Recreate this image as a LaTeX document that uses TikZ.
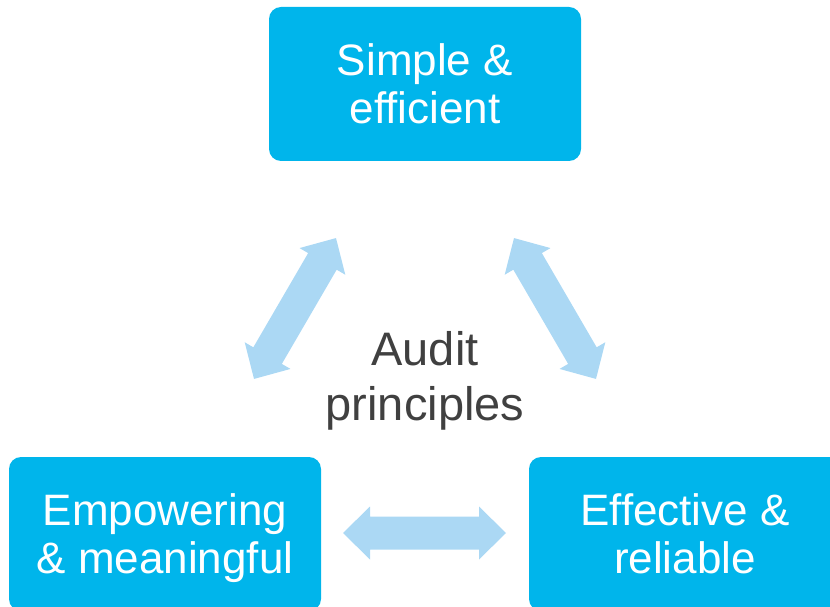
\documentclass[tikz,border=0pt]{standalone}
\usepackage{fontspec}
\setmainfont{Liberation Sans}
\definecolor{boxcyan}{HTML}{00B5EB}
\definecolor{arrowblue}{HTML}{ABD8F4}
\definecolor{labelgray}{HTML}{404040}
\begin{document}
\begin{tikzpicture}[x=1pt,y=1pt,
  principle/.style={rectangle, rounded corners=12pt, fill=boxcyan, text=white,
    minimum width=312pt, minimum height=154pt, inner sep=0pt, align=center,
    text depth=0pt, font=\fontsize{44}{48}\selectfont},
  centrelabel/.style={text=labelgray, align=center, inner sep=0pt,
    font=\fontsize{47}{55}\selectfont},
  twoway/.pic={
    \fill[arrowblue] (-81.5,0) -- (-54.5,26.5) -- (-54.5,16.5) -- (54.5,16.5)
      -- (54.5,26.5) -- (81.5,0) -- (54.5,-26.5) -- (54.5,-16.5)
      -- (-54.5,-16.5) -- (-54.5,-26.5) -- cycle;
  }]
  \useasboundingbox (0,0) rectangle (830,606);
  \clip (0,0) rectangle (830,606);

  % the three principles
  \node[principle] (simple) at (425,522) {Simple \&\\efficient};
  \node[principle] (empower) at (165,72) {Empowering\\\& meaningful};
  \node[principle] (effective) at (685,72) {Effective \&\\reliable};

  % centre label
  \node[centrelabel] (audit) at (425,225) {Audit\\principles};

  % two-way arrows between the principles
  \pic[rotate=59.8] (linkleft) at (295,297.5) {twoway};
  \pic[rotate=120.2] (linkright) at (555,297.5) {twoway};
  \pic (linkbottom) at (424.5,73) {twoway};
\end{tikzpicture}
\end{document}
